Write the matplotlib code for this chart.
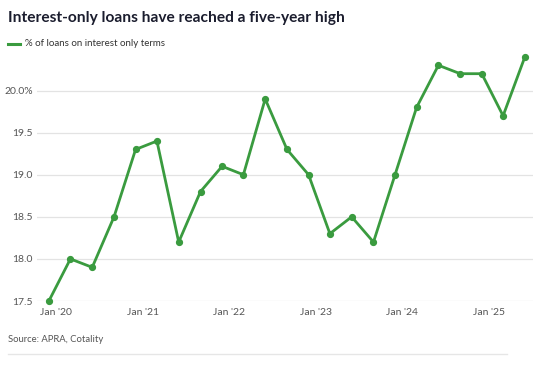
import matplotlib
matplotlib.use("Agg")
import matplotlib.pyplot as plt
import matplotlib.dates as mdates
import pandas as pd

# Quarterly share of loans on interest-only terms
dates = ["2019-12-01", "2020-03-01", "2020-06-01", "2020-09-01", "2020-12-01",
         "2021-03-01", "2021-06-01", "2021-09-01", "2021-12-01", "2022-03-01",
         "2022-06-01", "2022-09-01", "2022-12-01", "2023-03-01", "2023-06-01",
         "2023-09-01", "2023-12-01", "2024-03-01", "2024-06-01", "2024-09-01",
         "2024-12-01", "2025-03-01", "2025-06-01"]
share = [17.5, 18.0, 17.9, 18.5, 19.3, 19.4, 18.2, 18.8, 19.1, 19.0,
         19.9, 19.3, 19.0, 18.3, 18.5, 18.2, 19.0, 19.8, 20.3, 20.2,
         20.2, 19.7, 20.4]
y_ticks = [17.5, 18.0, 18.5, 19.0, 19.5, 20.0]
y_labels = ["17.5", "18.0", "18.5", "19.0", "19.5", "20.0%"]
x_ticks = ["2020-01-01", "2021-01-01", "2022-01-01", "2023-01-01", "2024-01-01", "2025-01-01"]

x = pd.to_datetime(dates)
green = "#3a9b3f"
grey = "#555555"

plt.rcParams["font.family"] = ["Lato", "DejaVu Sans"]

fig = plt.figure(figsize=(5.5, 3.65), dpi=100)
ax = fig.add_axes([0.0673, 0.1753, 0.9017, 0.692])

ax.plot(x, share, color=green, lw=2.0, marker="o", markersize=4.2, zorder=3, clip_on=False)

ax.set_ylim(17.5, 20.5)
ax.set_yticks(y_ticks)
ax.set_yticklabels(y_labels)
ax.set_xlim(x[0] - pd.Timedelta(days=50), x[-1] + pd.Timedelta(days=34))
ax.set_xticks(pd.to_datetime(x_ticks))
ax.xaxis.set_major_formatter(mdates.DateFormatter("%b '%y"))

ax.grid(axis="y", color="#e3e3e3", lw=0.9)
ax.set_axisbelow(True)
for s in ax.spines.values():
    s.set_visible(False)
ax.tick_params(axis="both", length=0, labelsize=7.5, colors=grey)
ax.tick_params(axis="x", pad=5)
ax.tick_params(axis="y", pad=3)

# title, legend, source
fig.text(8 / 550, 1 - 18 / 365, "Interest-only loans have reached a five-year high",
         fontsize=11.2, fontweight="bold", color="#1b1d2e", va="center", ha="left")
fig.add_artist(plt.Line2D([8 / 550, 20 / 550], [1 - 44 / 365, 1 - 44 / 365],
                          color=green, lw=2.2, transform=fig.transFigure))
fig.text(25 / 550, 1 - 44 / 365, "% of loans on interest only terms",
         fontsize=7.0, color="#333333", va="center", ha="left")
fig.text(8 / 550, 1 - 339 / 365, "Source: APRA, Cotality",
         fontsize=6.8, color=grey, va="center", ha="left")
fig.add_artist(plt.Line2D([8 / 550, 507 / 550], [1 - 354 / 365, 1 - 354 / 365],
                          color="#e6e6e6", lw=1.0, transform=fig.transFigure))

fig.savefig("out.png", dpi=100, facecolor="white")
